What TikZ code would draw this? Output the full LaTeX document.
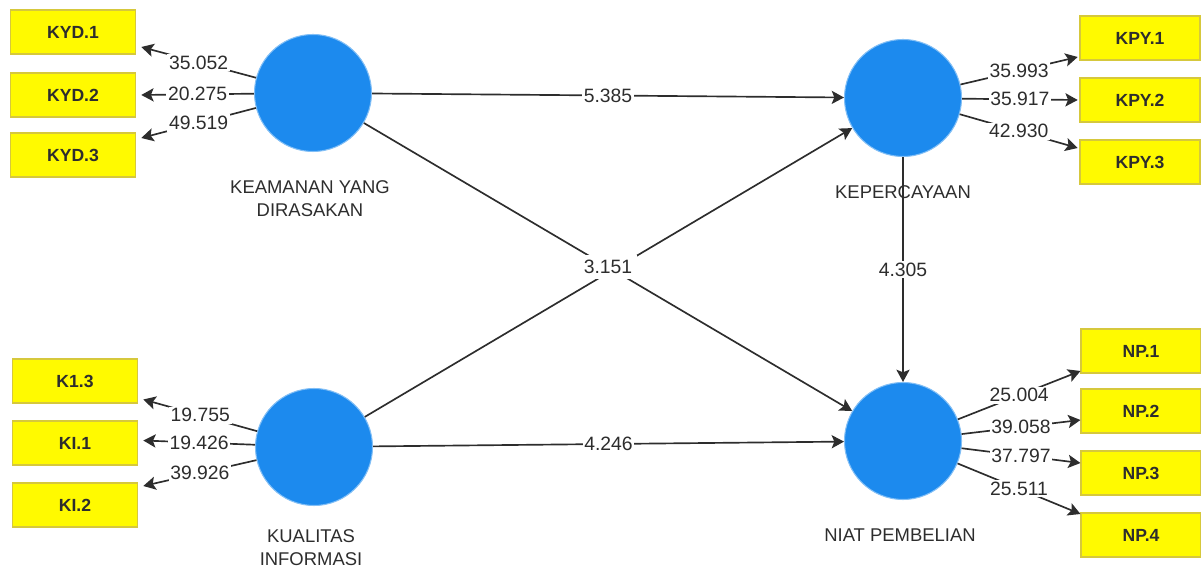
\documentclass[tikz,border=0pt]{standalone}
\usepackage{fontspec}
\setmainfont{Liberation Sans}
\usetikzlibrary{arrows.meta}

\definecolor{latentblue}{RGB}{28,138,238}
\definecolor{itemyellow}{RGB}{255,250,0}
\definecolor{itemborder}{RGB}{214,200,60}
\definecolor{inkgray}{RGB}{45,45,45}

\begin{document}
\begin{tikzpicture}[x=0.02cm, y=-0.02cm, >={Stealth[length=7pt, width=7.5pt, inset=1.5pt]},
    latent/.style={circle, fill=latentblue, draw=latentblue!55, line width=0.6pt, minimum size=2.34cm, inner sep=0pt},
    item/.style={rectangle, fill=itemyellow, draw=itemborder, line width=0.6pt, minimum width=2.5cm, minimum height=0.88cm, text=inkgray, font=\fontsize{10}{12}\selectfont\bfseries},
    path/.style={->, draw=inkgray, line width=0.95pt},
    weight/.style={fill=white, inner sep=1pt, text=inkgray, font=\fontsize{11}{12}\selectfont},
    caption/.style={align=center, text=inkgray, font=\fontsize{10.5}{13}\selectfont}]
    \useasboundingbox (0,0) rectangle (1201,567);

    % Latent variables
    \node[latent] (kyd) at (313,93) {};
    \node[latent] (kpy) at (903,98) {};
    \node[latent] (ki) at (314,447) {};
    \node[latent] (np) at (903,441) {};

    % Latent captions
    \node[caption] (kydcap) at (310,199) {KEAMANAN YANG\\DIRASAKAN};
    \node[caption] (kpycap) at (903,192) {KEPERCAYAAN};
    \node[caption] (kicap) at (311,548) {KUALITAS\\INFORMASI};
    \node[caption] (npcap) at (900,535) {NIAT PEMBELIAN};

    % Indicators
    \node[item] (kyd1) at (73,32) {KYD.1};
    \node[item] (kyd2) at (73,95) {KYD.2};
    \node[item] (kyd3) at (73,155) {KYD.3};
    \node[item] (ki3) at (75,381) {K1.3};
    \node[item] (ki1) at (75,443) {KI.1};
    \node[item] (ki2) at (75,505) {KI.2};
    \node[item, minimum width=2.4cm] (kpy1) at (1140,38) {KPY.1};
    \node[item, minimum width=2.4cm] (kpy2) at (1140,100) {KPY.2};
    \node[item, minimum width=2.4cm] (kpy3) at (1140,162) {KPY.3};
    \node[item, minimum width=2.4cm] (np1) at (1141,351) {NP.1};
    \node[item, minimum width=2.4cm] (np2) at (1141,411) {NP.2};
    \node[item, minimum width=2.4cm] (np3) at (1141,473) {NP.3};
    \node[item, minimum width=2.4cm] (np4) at (1141,535) {NP.4};

    % Outer loadings
    \draw[path] (kyd) -- node[weight] {35.052} ([xshift=3pt, yshift=-0.3cm]kyd1.east);
    \draw[path] (kyd) -- node[weight] {20.275} ([xshift=3pt]kyd2.east);
    \draw[path] (kyd) -- node[weight] {49.519} ([xshift=3pt, yshift=0.34cm]kyd3.east);
    \draw[path] (ki) -- node[weight] {19.755} ([xshift=3pt, yshift=-0.37cm]ki3.east);
    \draw[path] (ki) -- node[weight] {19.426} ([xshift=3pt, yshift=0.05cm]ki1.east);
    \draw[path] (ki) -- node[weight] {39.926} ([xshift=3pt, yshift=0.38cm]ki2.east);
    \draw[path] (kpy) -- node[weight] {35.993} ([xshift=-1pt, yshift=-0.38cm]kpy1.west);
    \draw[path] (kpy) -- node[weight] {35.917} ([xshift=-1pt]kpy2.west);
    \draw[path] (kpy) -- node[weight] {42.930} ([xshift=-1pt, yshift=0.28cm]kpy3.west);
    \draw[path] (np) -- node[weight] {25.004} ([yshift=-0.4cm]np1.west);
    \draw[path] (np) -- node[weight] {39.058} ([yshift=-0.18cm]np2.west);
    \draw[path] (np) -- node[weight] {37.797} ([yshift=0.2cm]np3.west);
    \draw[path] (np) -- node[weight] {25.511} ([yshift=0.42cm]np4.west);

    % Inner paths
    \draw[path] (kyd) -- node[weight] {5.385} (kpy);
    \draw[path] (ki) -- node[weight] {4.246} (np);
    \draw[path] (kpy) -- node[weight] {4.305} (np);
    \draw[path] (ki) -- (kpy);
    \draw[path] (kyd) -- node[weight, inner sep=3pt] {3.151} (np);
\end{tikzpicture}
\end{document}
